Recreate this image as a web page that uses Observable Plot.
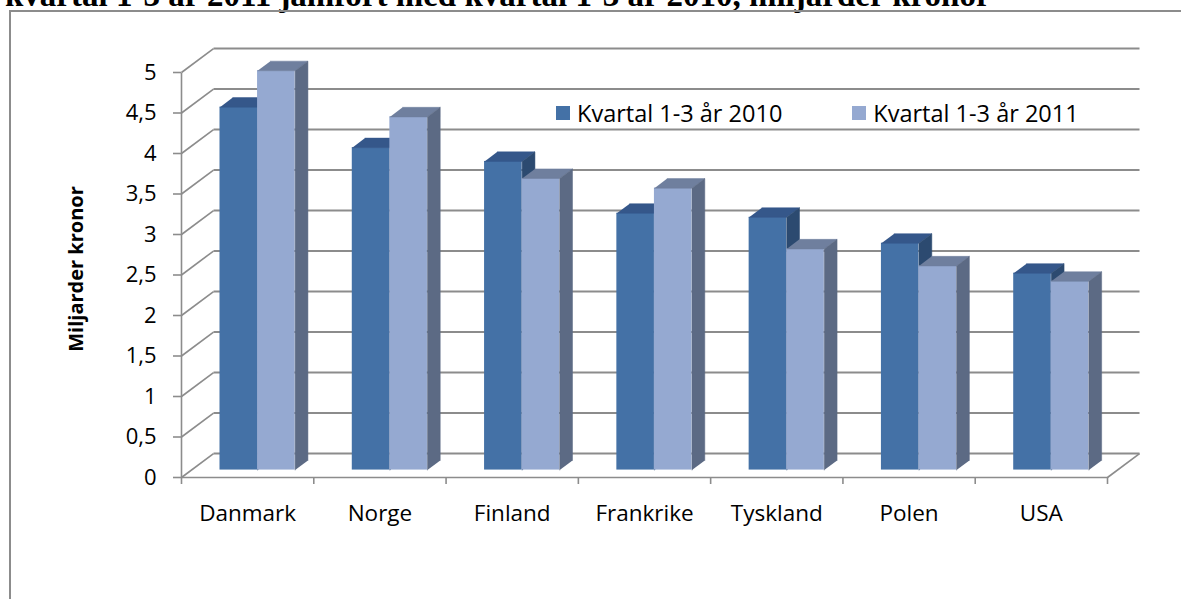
<!DOCTYPE html>
<html>
<head>
<meta charset="utf-8">
<script src="https://cdn.jsdelivr.net/npm/d3@7"></script>
<script src="https://cdn.jsdelivr.net/npm/@observablehq/plot@0.6"></script>
<style>
  html, body { margin: 0; padding: 0; background: #fff; }
  body { width: 1181px; height: 599px; position: relative; overflow: hidden; }
  #title { position: absolute; left: 5px; top: -21px; white-space: nowrap;
    font-family: "Liberation Serif", "DejaVu Serif", serif; font-weight: bold; font-size: 33px; line-height: 33px; color: #000; }
  #frame { position: absolute; left: 9px; top: 10px; width: 1300px; height: 700px;
    border-left: 2px solid #8c8c8c; border-top: 2px solid #8c8c8c; }
  #chart { position: absolute; left: 0; top: 0; }
  #chart svg { overflow: visible; }
  #legend { position: absolute; top: 100px; left: 556px; height: 26px; display: flex; align-items: center;
    font-family: "Open Sans", sans-serif; font-size: 23.5px; color: #000; }
  #legend .sw { width: 14px; height: 14px; display: inline-block; margin-right: 7px; }
  #legend .item { display: flex; align-items: center; }
</style>
</head>
<body>
<div id="title">kvartal 1-3 år 2011 jämfört med kvartal 1-3 år 2010, miljarder kronor</div>
<div id="frame"></div>
<div id="chart"></div>
<div id="legend"></div>
<script>
// ---- data ----
const categories = ["Danmark", "Norge", "Finland", "Frankrike", "Tyskland", "Polen", "USA"];
const series = ["Kvartal 1-3 år 2010", "Kvartal 1-3 år 2011"];
const values2010 = [4.48, 3.98, 3.81, 3.17, 3.12, 2.80, 2.43];
const values2011 = [4.93, 4.36, 3.60, 3.48, 2.73, 2.52, 2.33];
const yTicks = [0, 0.5, 1, 1.5, 2, 2.5, 3, 3.5, 4, 4.5, 5];

// ---- style ----
const colors = [
  {front: "#4471a6", top: "#35578a", side: "#2c4a70"},
  {front: "#95a9d1", top: "#6f7f9e", side: "#5c6a84"}
];
const gridColor = "#8c8c8c";
const DX = 0.242;   // wall depth in category units
const DY = 0.296;   // wall depth in value units
const F = 0.31;     // bar front position (fraction of depth)
const B = 0.40;     // bar depth (fraction of depth)
const BW = 0.284;   // bar width in category units

// ---- geometry from data ----
const fronts = [], tops = [], sides = [];
categories.forEach((c, i) => {
  [values2010[i], values2011[i]].forEach((v, s) => {
    const x1 = i + 0.5 - BW + s * BW + F * DX;
    const x2 = x1 + BW;
    const yb = F * DY, yt = v + F * DY;
    const bx = B * DX, by = B * DY;
    fronts.push({s, x1, x2, y1: yb, y2: yt});
    const id = c + s;
    [[x1, yt], [x2, yt], [x2 + bx, yt + by], [x1 + bx, yt + by]].forEach(([x, y]) => tops.push({s, id, x, y}));
    [[x2, yb], [x2, yt], [x2 + bx, yt + by], [x2 + bx, yb + by]].forEach(([x, y]) => sides.push({s, id, x, y}));
  });
});

const barMarks = [];
[0, 1].forEach(s => {
  barMarks.push(Plot.rect(fronts.filter(d => d.s === s), {x1: "x1", x2: "x2", y1: "y1", y2: "y2", fill: colors[s].front}));
  barMarks.push(Plot.line(tops.filter(d => d.s === s), {x: "x", y: "y", z: "id", fill: colors[s].top, stroke: colors[s].top, strokeWidth: 0.5}));
  barMarks.push(Plot.line(sides.filter(d => d.s === s), {x: "x", y: "y", z: "id", fill: colors[s].side, stroke: colors[s].side, strokeWidth: 0.5}));
});

const fmt = d => String(d).replace(".", ",");

const chart = Plot.plot({
  width: 1181,
  height: 599,
  marginLeft: 181,
  marginRight: 74,
  marginTop: 72,
  marginBottom: 122,
  x: {domain: [0, 7]},
  y: {domain: [0, 5]},
  style: {fontFamily: "'Open Sans', sans-serif", fontSize: "22px", color: "#000", background: "none"},
  marks: [
    // back wall gridlines
    Plot.link(yTicks, {x1: () => DX, x2: () => 7 + DX, y1: d => d + DY, y2: d => d + DY, stroke: gridColor, strokeWidth: 2}),
    // side wall diagonals
    Plot.link(yTicks, {x1: () => 0, x2: () => DX, y1: d => d, y2: d => d + DY, stroke: gridColor, strokeWidth: 1.6}),
    // floor edges
    Plot.link([0], {x1: () => 0, x2: () => 7, y1: () => 0, y2: () => 0, stroke: gridColor, strokeWidth: 1.6}),
    Plot.link([0], {x1: () => 7, x2: () => 7 + DX, y1: () => 0, y2: () => DY, stroke: gridColor, strokeWidth: 1.6}),
    // front vertical axis
    Plot.link([0], {x1: () => 0, x2: () => 0, y1: () => 0, y2: () => 5, stroke: gridColor, strokeWidth: 1.6}),
    ...barMarks,
    Plot.axisY({ticks: yTicks, tickSize: 8, tickPadding: 17, tickFormat: fmt, stroke: gridColor, strokeWidth: 1.6, label: null, fontSize: 22}),
    Plot.axisX({ticks: d3.range(0, 8), tickSize: 7, tickFormat: () => "", stroke: gridColor, strokeWidth: 1.6, label: null}),
    Plot.axisX({ticks: categories.map((c, i) => i + 0.5), tickSize: 0, tickPadding: 28, tickFormat: d => categories[Math.floor(d)], label: null, fontSize: 22.5}),
    Plot.text(["Miljarder kronor"], {frameAnchor: "left", textAnchor: "middle", dx: -105, dy: -6, rotate: -90, fontWeight: "bold", fontSize: 20})
  ]
});
document.getElementById("chart").appendChild(chart);

// legend
const legend = document.getElementById("legend");
series.forEach((name, s) => {
  const item = document.createElement("span");
  item.className = "item";
  if (s === 1) item.style.marginLeft = "70px";
  const sw = document.createElement("span");
  sw.className = "sw";
  sw.style.background = colors[s].front;
  item.appendChild(sw);
  item.appendChild(document.createTextNode(name));
  legend.appendChild(item);
});
</script>
</body>
</html>
